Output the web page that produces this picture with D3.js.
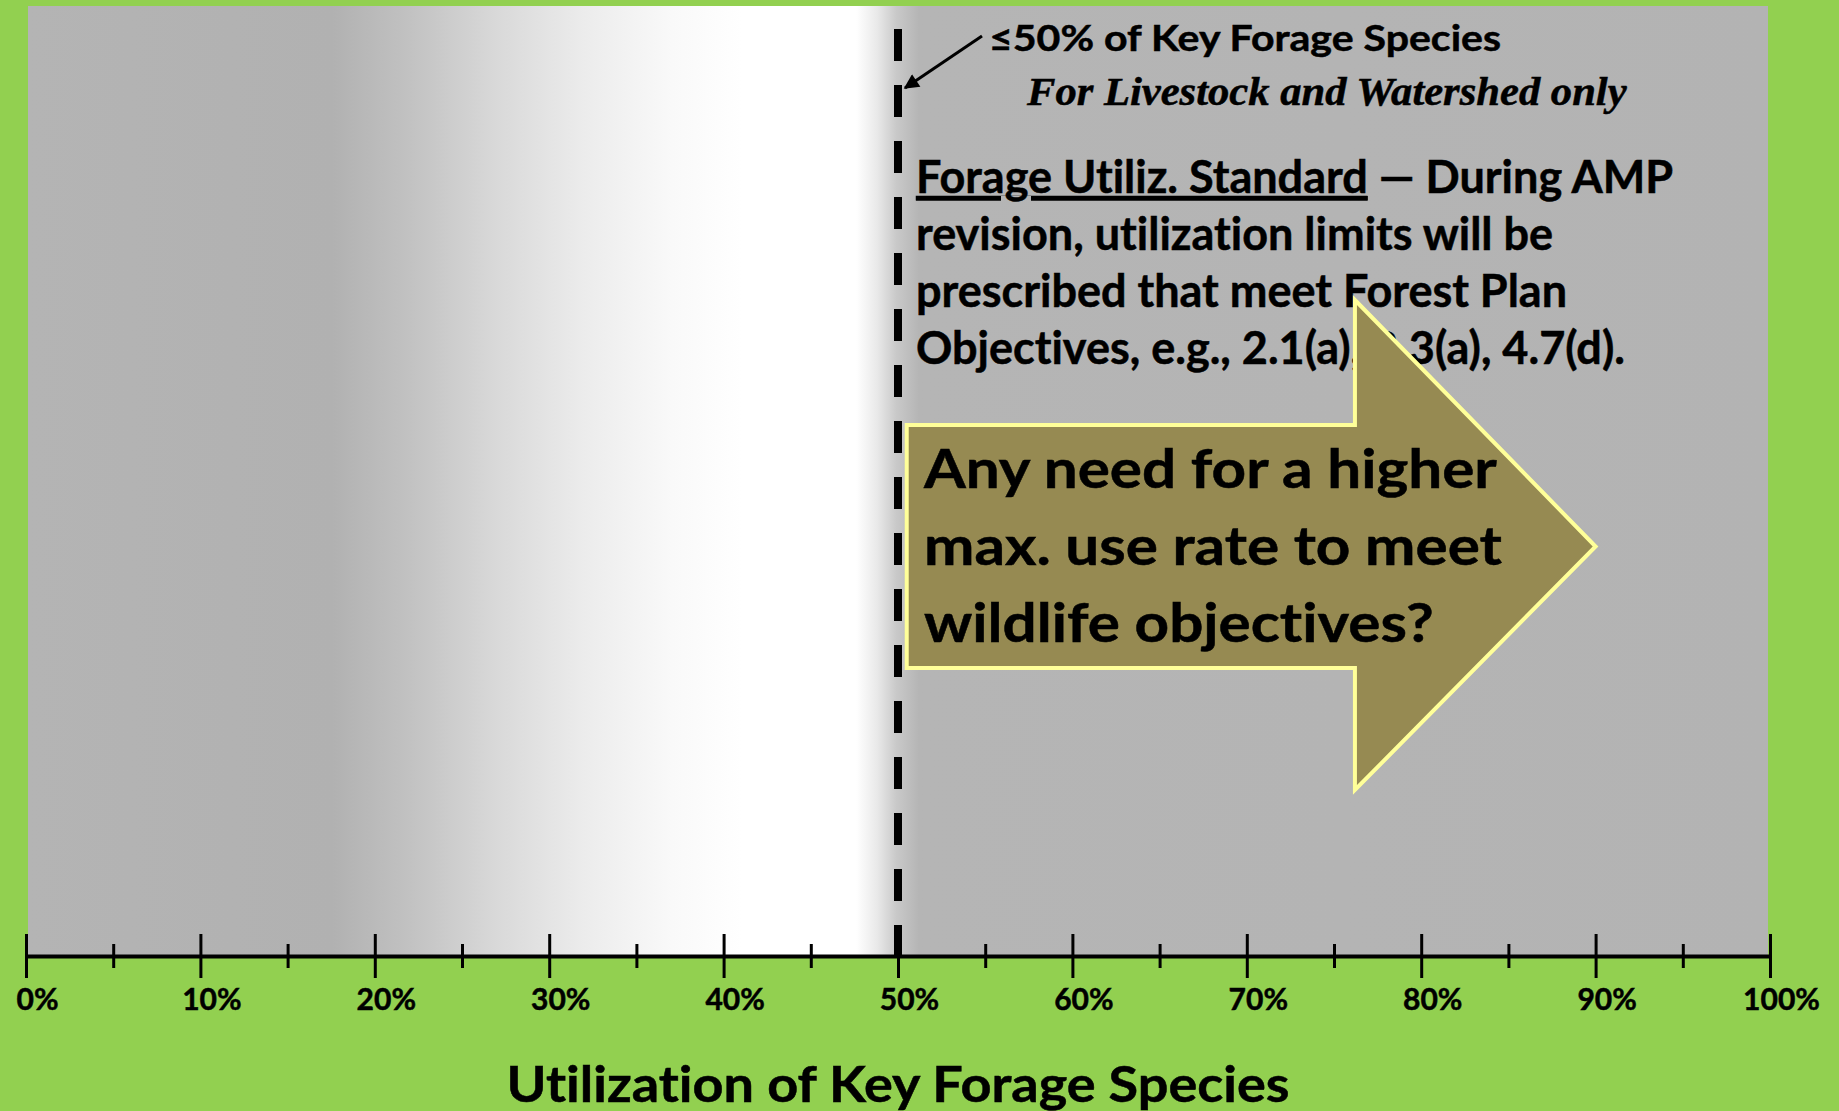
<!DOCTYPE html>
<html>
<head>
<meta charset="utf-8">
<script src="https://cdn.jsdelivr.net/npm/d3@7"></script>
<style>
  html, body { margin: 0; padding: 0; background: #92d050; }
  svg { display: block; }
  text { font-family: Lato, 'Noto Sans', sans-serif; font-weight: 700; fill: #000;
         stroke: #000; stroke-width: 0.5px; font-variant-ligatures: none; }
</style>
</head>
<body>
<div id="chart"></div>
<script>
const width = 1839;
const height = 1111;

// axis values
const majorTicks = [0, 0.1, 0.2, 0.3, 0.4, 0.5, 0.6, 0.7, 0.8, 0.9, 1.0];
const minorTicks = [0.05, 0.15, 0.25, 0.35, 0.45, 0.55, 0.65, 0.75, 0.85, 0.95];
const tickLabels = ['0%', '10%', '20%', '30%', '40%', '50%', '60%', '70%', '80%', '90%', '100%'];
const axisTitle = 'Utilization of Key Forage Species';

// the standard: max use of key forage species
const limitValue = 0.5;
const limitLabel = '\u226450% of Key Forage Species';
const limitNote = 'For Livestock and Watershed only';

const standardTitle = 'Forage Utiliz. Standard';
const standardLines = [
    ' \u2014 During AMP',
    'revision, utilization limits will be',
    'prescribed that meet Forest Plan',
    'Objectives, e.g., 2.1(a), 2.3(a), 4.7(d).'
];

// the big arrow pointing to higher use
const questionFrom = 0.505;
const questionTo = 0.9;
const questionLines = [
    'Any need for a higher',
    'max. use rate to meet',
    'wildlife objectives?'
];

// Lato runs a bit narrower than the original face, stretch a text by k
function widen(sel, k) {
    sel.each(function () {
        const n = this.getComputedTextLength();
        d3.select(this)
            .attr('textLength', n * k)
            .attr('lengthAdjust', 'spacingAndGlyphs');
    });
}

const svg = d3.select('#chart')
    .append('svg')
    .attr('width', width)
    .attr('height', height);

const x = d3.scaleLinear()
    .domain([0, 1])
    .range([26, 1770]);

const axisY = 956;
const panelTop = 6;

const defs = svg.append('defs');

// light band left of the limit line, grey elsewhere
const grad = defs.append('linearGradient')
    .attr('id', 'band')
    .attr('x1', 0).attr('x2', 1).attr('y1', 0).attr('y2', 0);

const stops = [
    [0, '#b4b4b4'], [0.175, '#b1b1b1'], [0.22, '#c2c2c2'], [0.27, '#d9d9d9'],
    [0.32, '#ececec'], [0.37, '#f9f9f9'], [0.41, '#ffffff'], [0.476, '#ffffff'],
    [0.488, '#e9e9e9'], [0.499, '#c9c9c9'], [0.512, '#b5b5b5'], [1, '#b3b3b3']
];
grad.selectAll('stop')
    .data(stops)
    .enter()
    .append('stop')
    .attr('offset', d => d[0])
    .attr('stop-color', d => d[1]);

defs.append('marker')
    .attr('id', 'head')
    .attr('viewBox', '0 0 10 10')
    .attr('refX', 9)
    .attr('refY', 5)
    .attr('markerWidth', 6)
    .attr('markerHeight', 5)
    .attr('markerUnits', 'strokeWidth')
    .attr('orient', 'auto')
    .append('path')
    .attr('d', 'M0,0 L10,5 L0,10 z')
    .attr('fill', '#000');

svg.append('rect')
    .attr('x', 28)
    .attr('y', panelTop)
    .attr('width', 1768 - 28)
    .attr('height', axisY - panelTop)
    .attr('fill', 'url(#band)');

// limit line
svg.append('line')
    .attr('x1', x(limitValue))
    .attr('x2', x(limitValue))
    .attr('y1', 29)
    .attr('y2', axisY)
    .attr('stroke', '#000')
    .attr('stroke-width', 8)
    .attr('stroke-dasharray', '32 24');

// pointer to the line
svg.append('line')
    .attr('x1', 982)
    .attr('y1', 36)
    .attr('x2', x(limitValue) + 7)
    .attr('y2', 88)
    .attr('stroke', '#000')
    .attr('stroke-width', 3)
    .attr('marker-end', 'url(#head)');

svg.append('text')
    .attr('x', 989)
    .attr('y', 51)
    .style('font-size', '36px')
    .text(limitLabel)
    .call(widen, 1.14);

svg.append('text')
    .attr('x', 1027)
    .attr('y', 105)
    .style('font-family', "'Liberation Serif', 'Times New Roman', serif")
    .style('font-style', 'italic')
    .style('font-size', '40px')
    .text(limitNote)
    .call(widen, 1.065);

// the standard paragraph
const para = svg.append('text')
    .attr('x', 916)
    .attr('y', 193)
    .style('font-size', '45px');

standardLines.forEach((line, i) => {
    if (i === 0) {
        para.append('tspan')
            .attr('x', 916)
            .attr('y', 193)
            .style('text-decoration', 'underline')
            .text(standardTitle);
        para.append('tspan').text(line);
    } else {
        para.append('tspan')
            .attr('x', 916)
            .attr('y', 193 + i * 57)
            .text(line);
    }
});

// block arrow
const shaftTop = 425;
const shaftBot = 668;
const headTop = 300;
const headBot = 790;
const midY = (shaftTop + shaftBot) / 2;
const neck = x(0.762);

const arrowPts = [
    [x(questionFrom), shaftTop], [neck, shaftTop], [neck, headTop],
    [x(questionTo), midY], [neck, headBot], [neck, shaftBot], [x(questionFrom), shaftBot]
];

svg.append('path')
    .attr('d', d3.line()(arrowPts) + 'Z')
    .attr('fill', '#968a52')
    .attr('stroke', '#ffff99')
    .attr('stroke-width', 4)
    .attr('stroke-linejoin', 'miter');

svg.append('g')
    .selectAll('text')
    .data(questionLines)
    .enter()
    .append('text')
    .attr('x', 924)
    .attr('y', (d, i) => 488 + i * 77)
    .style('font-size', '54px')
    .text(d => d)
    .call(widen, 1.115);

// axis
const majorAxis = svg.append('g')
    .attr('transform', `translate(0,${axisY})`)
    .call(d3.axisBottom(x)
        .tickValues(majorTicks)
        .tickSizeInner(22)
        .tickSizeOuter(0)
        .tickFormat((d, i) => tickLabels[i]));

majorAxis.select('.domain')
    .attr('stroke', '#000')
    .attr('stroke-width', 4);

majorAxis.selectAll('.tick line')
    .attr('y1', -22)
    .attr('stroke', '#000')
    .attr('stroke-width', 3);

majorAxis.selectAll('.tick text')
    .attr('y', 54)
    .attr('dy', 0)
    .attr('dx', 11)
    .attr('fill', '#000')
    .style('font-family', 'Lato, sans-serif')
    .style('font-weight', 700)
    .style('font-size', '30px');

const minorAxis = svg.append('g')
    .attr('transform', `translate(0,${axisY})`)
    .call(d3.axisBottom(x)
        .tickValues(minorTicks)
        .tickSizeInner(12)
        .tickSizeOuter(0)
        .tickFormat(''));

minorAxis.select('.domain').remove();
minorAxis.selectAll('.tick line')
    .attr('y1', -12)
    .attr('stroke', '#000')
    .attr('stroke-width', 3);

svg.append('text')
    .attr('x', x(0.5))
    .attr('y', 1102)
    .attr('text-anchor', 'middle')
    .style('font-size', '50px')
    .text(axisTitle)
    .call(widen, 1.08);
</script>
</body>
</html>
